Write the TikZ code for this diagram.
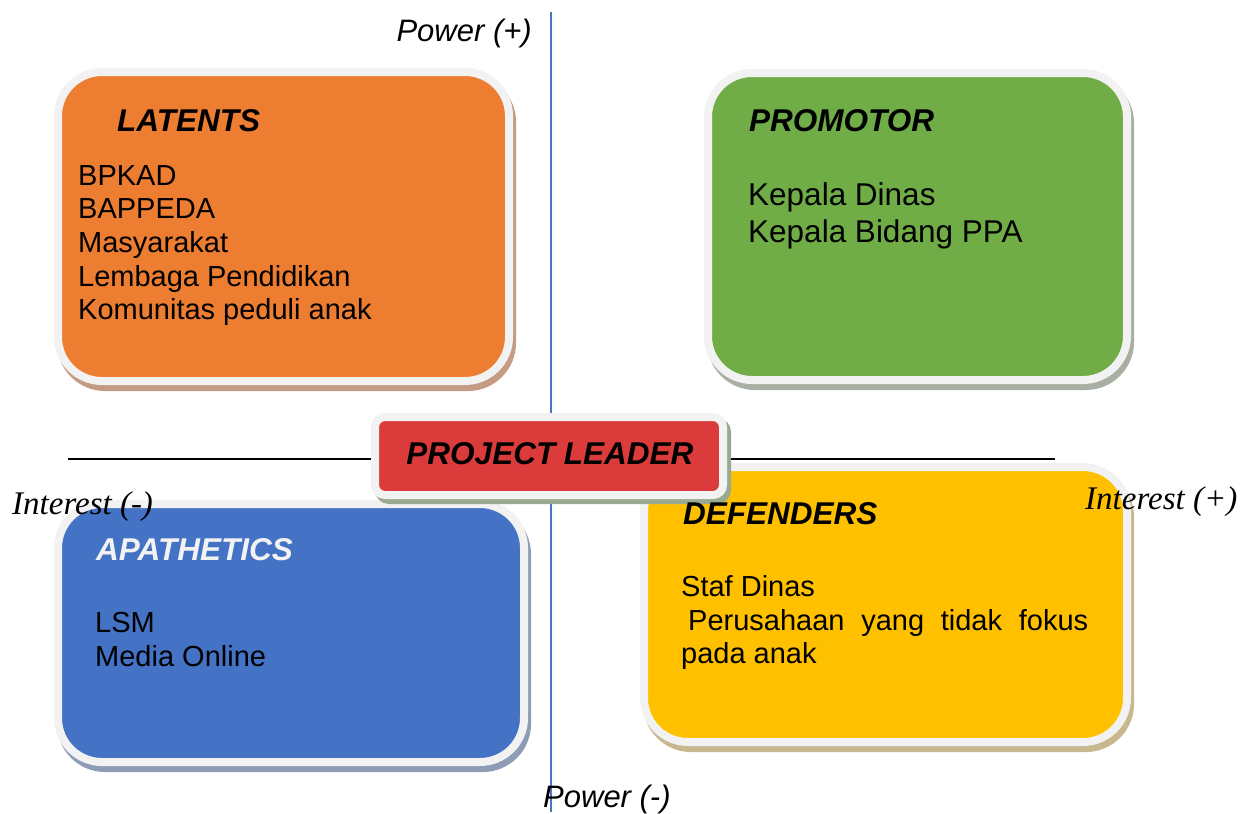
\documentclass[tikz,border=0pt]{standalone}
\usepackage{fontspec}
\setmainfont{Liberation Sans}
\newfontfamily\axisfont{Liberation Serif}
\usetikzlibrary{positioning}

\definecolor{rim}{HTML}{F2F2F2}
\definecolor{latentfill}{HTML}{ED7D31}
\definecolor{latentshade}{HTML}{C49C84}
\definecolor{promofill}{HTML}{70AD47}
\definecolor{promoshade}{HTML}{A9B0A3}
\definecolor{leadfill}{HTML}{DC3B3B}
\definecolor{leadshade}{HTML}{9AAA90}
\definecolor{apafill}{HTML}{4472C4}
\definecolor{apashade}{HTML}{8E9CB6}
\definecolor{deffill}{HTML}{FFC000}
\definecolor{defshade}{HTML}{C8B890}
\definecolor{axisblue}{HTML}{4A74C4}

\begin{document}
\begin{tikzpicture}[x=1pt,y=-1pt]

\tikzstyle{quad}=[rectangle,rounded corners=44pt,line width=8pt,inner sep=0pt,outer sep=0pt]
\tikzstyle{leadbox}=[rectangle,rounded corners=10pt,line width=8pt,inner sep=0pt,outer sep=0pt]
\tikzstyle{entry}=[anchor=base west,inner sep=0pt,font=\fontsize{29pt}{34pt}\selectfont]
\tikzstyle{bigentry}=[anchor=base west,inner sep=0pt,font=\fontsize{31.5pt}{36pt}\selectfont]
\tikzstyle{heading}=[anchor=base west,inner sep=0pt,font=\fontsize{31.5pt}{36pt}\selectfont\bfseries\itshape]
\tikzstyle{powerlbl}=[inner sep=0pt,font=\fontsize{31pt}{36pt}\selectfont\itshape]
\tikzstyle{interestlbl}=[anchor=base west,inner sep=0pt,font=\fontsize{33pt}{36pt}\selectfont\axisfont\itshape]

\useasboundingbox (0,0) rectangle (1251,814);

%% Axes
\coordinate (ptop) at (551,12);
\coordinate (pbot) at (551,812);
\coordinate (ileft) at (68,459);
\coordinate (iright) at (1055,459);
\draw[axisblue,line width=1.4pt] (ptop) -- (pbot);
\draw[black,line width=1.4pt] (ileft) -- (iright);

%% Quadrant boxes (shadow first, then the box)
\node[quad,minimum width=451pt,minimum height=309pt,draw=latentshade,fill=latentshade,xshift=3pt,yshift=-6pt] (latsh) at (283.5,226.5) {};
\node[quad,minimum width=451pt,minimum height=309pt,draw=rim,fill=latentfill] (latents) at (283.5,226.5) {};

\node[quad,minimum width=419pt,minimum height=307pt,draw=promoshade,fill=promoshade,xshift=3pt,yshift=-6pt] (prosh) at (917.5,226.5) {};
\node[quad,minimum width=419pt,minimum height=307pt,draw=rim,fill=promofill] (promotor) at (917.5,226.5) {};

\node[quad,minimum width=466pt,minimum height=258pt,draw=apashade,fill=apashade,xshift=3pt,yshift=-6pt] (apash) at (291,633) {};
\node[quad,minimum width=466pt,minimum height=258pt,draw=rim,fill=apafill] (apathetics) at (291,633) {};

\node[quad,minimum width=483pt,minimum height=275pt,draw=defshade,fill=defshade,xshift=3pt,yshift=-6pt] (defsh) at (885.5,604.5) {};
\node[quad,minimum width=483pt,minimum height=275pt,draw=rim,fill=deffill] (defenders) at (885.5,604.5) {};

\node[leadbox,minimum width=348pt,minimum height=78pt,draw=leadshade,fill=leadshade,xshift=4pt,yshift=-5pt] (leadsh) at (549,456) {};
\node[leadbox,minimum width=348pt,minimum height=78pt,draw=rim,fill=leadfill] (leader) at (549,456) {};
\node[heading,anchor=base] (leadtxt) at (550,464) {PROJECT LEADER};

%% Latents
\node[heading] (lat0) at (117,131) {LATENTS};
\node[entry] (lat1) at (78,185) {BPKAD};
\node[entry] (lat2) at (78,218) {BAPPEDA};
\node[entry] (lat3) at (78,252) {Masyarakat};
\node[entry] (lat4) at (78,286) {Lembaga Pendidikan};
\node[entry] (lat5) at (78,319) {Komunitas peduli anak};

%% Promotor
\node[heading] (pro0) at (749,131) {PROMOTOR};
\node[bigentry] (pro1) at (748,205) {Kepala Dinas};
\node[bigentry] (pro2) at (748,242) {Kepala Bidang PPA};

%% Apathetics
\node[heading,text=rim] (apa0) at (96,560) {APATHETICS};
\node[entry] (apa1) at (95,632) {LSM};
\node[entry] (apa2) at (95,666) {Media Online};

%% Defenders
\node[heading] (def0) at (683,524) {DEFENDERS};
\node[entry] (def1) at (681,596) {Staf Dinas};
\node[entry] (def2) at (681,630) {\hspace*{7pt}\makebox[400pt][s]{Perusahaan yang tidak fokus}};
\node[entry] (def3) at (681,663) {pada anak};

%% Axis labels
\node[powerlbl,anchor=base east] (powhi) at (532,41) {Power (+)};
\node[powerlbl,anchor=base west] (powlo) at (543,807) {Power (-)};
\node[interestlbl] (intlo) at (12,514) {Interest (-)};
\node[interestlbl] (inthi) at (1085,509) {Interest (+)};

\end{tikzpicture}
\end{document}
